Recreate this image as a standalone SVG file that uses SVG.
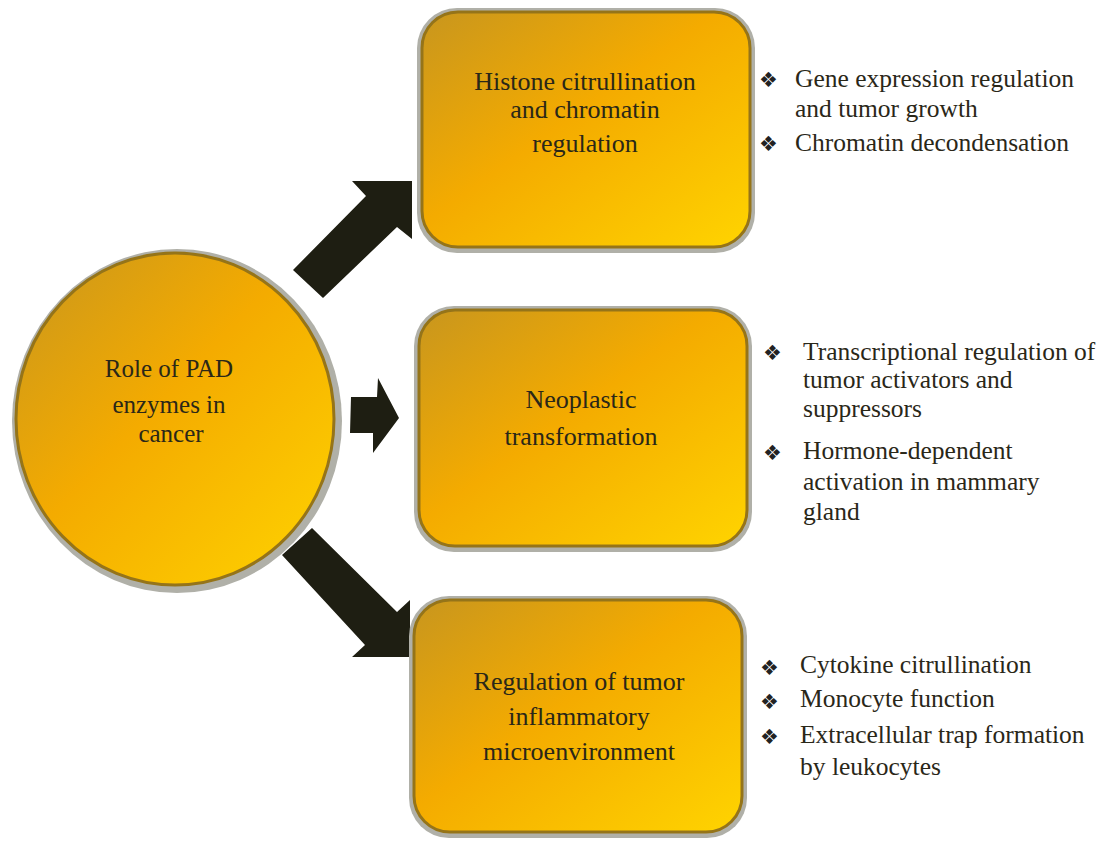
<svg xmlns="http://www.w3.org/2000/svg" width="1112" height="841" viewBox="0 0 1112 841">
<defs>
<linearGradient id="gold" x1="0" y1="0" x2="1" y2="1">
<stop offset="0" stop-color="#c8961e"/>
<stop offset="0.45" stop-color="#f4ab00"/>
<stop offset="1" stop-color="#ffd400"/>
</linearGradient>
<style>
.sh{fill:#b0b0a8;}
.nd{fill:url(#gold);stroke:#957419;stroke-width:3;}
.t{font-family:"Liberation Serif","DejaVu Serif",serif;font-size:25.5px;fill:#2a2718;}
.bx{font-size:26px;}
.ci{font-size:25px;}
.c{text-anchor:middle;}
.b{font-family:"DejaVu Sans",sans-serif;font-size:21px;fill:#222;}
.arr{fill:#1e1e12;}
</style>
</defs>
<rect width="1112" height="841" fill="#fff"/>
<g id="connectors">
<polygon class="arr" points="293,270 366,196 352,181 412,181 412,239 397,227 323,298"/>
<polygon class="arr" points="351,397 377,397 378,378 399,418 373,453 373,433 350,433"/>
<polygon class="arr" points="312,528 397,612 410,600 410,657 352,657 365,645 282,555"/>
</g>
<g id="center">
<ellipse class="sh" cx="177" cy="421" rx="165" ry="172"/>
<ellipse class="nd" cx="175" cy="419" rx="159" ry="166"/>
<text class="t ci c" x="169" y="377">Role of PAD</text>
<text class="t ci c" x="169" y="413">enzymes in</text>
<text class="t ci c" x="171" y="442">cancer</text>
</g>
<g id="box1">
<rect class="sh" x="417" y="8" width="338" height="245" rx="40"/>
<rect class="nd" x="422" y="12" width="328" height="235" rx="36"/>
<text class="t bx c" x="585" y="90">Histone citrullination</text>
<text class="t bx c" x="585" y="118">and chromatin</text>
<text class="t bx c" x="585" y="152">regulation</text>
</g>
<g id="box2">
<rect class="sh" x="414" y="306" width="338" height="246" rx="40"/>
<rect class="nd" x="419" y="310" width="328" height="236" rx="36"/>
<text class="t bx c" x="581" y="408">Neoplastic</text>
<text class="t bx c" x="581" y="445">transformation</text>
</g>
<g id="box3">
<rect class="sh" x="409" y="596" width="338" height="242" rx="40"/>
<rect class="nd" x="414" y="600" width="328" height="232" rx="36"/>
<text class="t bx c" x="579" y="690">Regulation of tumor</text>
<text class="t bx c" x="579" y="725">inflammatory</text>
<text class="t bx c" x="579" y="760">microenvironment</text>
</g>
<g id="list1">
<text class="b" x="759" y="87">❖</text>
<text class="t" x="795" y="87">Gene expression regulation</text>
<text class="t" x="795" y="117">and tumor growth</text>
<text class="b" x="759" y="151">❖</text>
<text class="t" x="795" y="151">Chromatin decondensation</text>
</g>
<g id="list2">
<text class="b" x="763" y="360">❖</text>
<text class="t" x="803" y="360">Transcriptional regulation of</text>
<text class="t" x="803" y="388">tumor activators and</text>
<text class="t" x="803" y="417">suppressors</text>
<text class="b" x="763" y="460">❖</text>
<text class="t" x="803" y="459">Hormone-dependent</text>
<text class="t" x="803" y="490">activation in mammary</text>
<text class="t" x="803" y="520">gland</text>
</g>
<g id="list3">
<text class="b" x="760" y="675">❖</text>
<text class="t" x="800" y="673">Cytokine citrullination</text>
<text class="b" x="760" y="709">❖</text>
<text class="t" x="800" y="707">Monocyte function</text>
<text class="b" x="760" y="744">❖</text>
<text class="t" x="800" y="743">Extracellular trap formation</text>
<text class="t" x="800" y="775">by leukocytes</text>
</g>
</svg>
